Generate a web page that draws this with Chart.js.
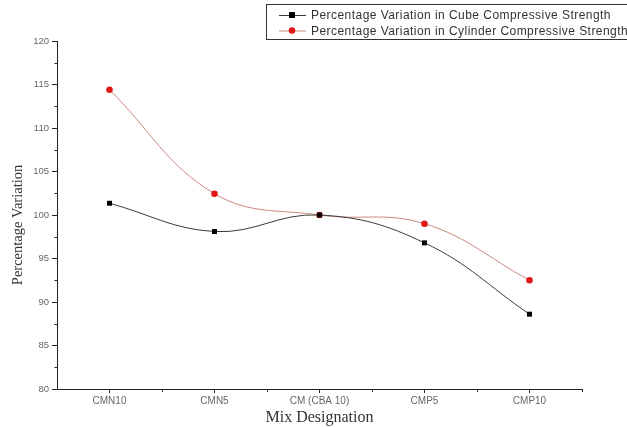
<!DOCTYPE html>
<html>
<head>
<meta charset="utf-8">
<script src="https://cdn.jsdelivr.net/npm/chart.js@4.4.0/dist/chart.umd.min.js"></script>
<style>
  html, body { margin: 0; padding: 0; background: #fff; }
  #chart { display: block; }
</style>
</head>
<body>
<canvas id="chart" width="627" height="427"></canvas>
<script>
const categories = ["CMN10", "CMN5", "CM (CBA 10)", "CMP5", "CMP10"];
const cubeValues = [101.35, 98.1, 100, 96.8, 88.6];
const cylinderValues = [114.4, 102.45, 100, 99.0, 92.5];
const seriesLabels = [
  "Percentage Variation in Cube Compressive Strength",
  "Percentage Variation in Cylinder Compressive Strength",
];

// minor ticks on both axes + the y title, like the Origin plot
const minorTicks = {
  id: "minorTicks",
  afterDraw(chart) {
    const ctx = chart.ctx;
    const x = chart.scales.x;
    const y = chart.scales.y;
    ctx.save();
    ctx.strokeStyle = "#222";
    ctx.lineWidth = 1;
    ctx.beginPath();
    for (let v = 82.5; v < 120; v += 5) {
      const py = Math.round(y.getPixelForValue(v)) + 0.5;
      ctx.moveTo(x.left - 2.5, py);
      ctx.lineTo(x.left, py);
    }
    const w = (x.right - x.left) / categories.length;
    for (let i = 1; i <= categories.length; i++) {
      const px = Math.round(x.left + i * w) + 0.5;
      ctx.moveTo(px, y.bottom);
      ctx.lineTo(px, y.bottom + 3);
    }
    ctx.stroke();

    ctx.translate(18, 225);
    ctx.rotate(-Math.PI / 2);
    ctx.fillStyle = "#333";
    ctx.font = "14.5px 'Liberation Serif', 'Times New Roman', serif";
    ctx.textAlign = "center";
    ctx.textBaseline = "middle";
    ctx.fillText("Percentage Variation", 0, 0);
    ctx.restore();
  },
};

// boxed legend in the top-right corner
const boxLegend = {
  id: "boxLegend",
  afterDraw(chart) {
    const ctx = chart.ctx;
    ctx.save();
    ctx.strokeStyle = "#333";
    ctx.lineWidth = 1;
    ctx.strokeRect(266.5, 4.5, 380, 35);
    ctx.font = "12px 'Liberation Sans', Arial, sans-serif";
    ctx.letterSpacing = "0.45px";
    ctx.textBaseline = "middle";
    chart.data.datasets.forEach((ds, i) => {
      const yy = 15 + i * 15.5;
      ctx.strokeStyle = ds.borderColor;
      ctx.beginPath();
      ctx.moveTo(279, yy + 0.5);
      ctx.lineTo(306, yy + 0.5);
      ctx.stroke();
      ctx.fillStyle = ds.pointBackgroundColor;
      if (ds.pointStyle === "rect") {
        ctx.fillRect(289, yy - 3, 6, 6);
      } else {
        ctx.beginPath();
        ctx.arc(292, yy, 3.3, 0, Math.PI * 2);
        ctx.fill();
      }
      ctx.fillStyle = "#333";
      ctx.fillText(ds.label, 311, yy + 1);
    });
    ctx.restore();
  },
};

const ctx = document.getElementById("chart").getContext("2d");
new Chart(ctx, {
  type: "line",
  data: {
    labels: categories,
    datasets: [
      {
        label: seriesLabels[0],
        data: cubeValues,
        borderColor: "#3a3a3a",
        borderWidth: 1,
        pointStyle: "rect",
        pointRadius: 3.5,
        pointBackgroundColor: "#000",
        pointBorderColor: "#000",
        pointBorderWidth: 0,
        tension: 0.4,
      },
      {
        label: seriesLabels[1],
        data: cylinderValues,
        borderColor: "#c98a80",
        borderWidth: 1,
        pointStyle: "circle",
        pointRadius: 3.3,
        pointBackgroundColor: "#e01818",
        pointBorderColor: "#e01818",
        pointBorderWidth: 0,
        tension: 0.4,
      },
    ],
  },
  options: {
    responsive: false,
    animation: false,
    layout: { padding: { top: 41, right: 45, left: 0, bottom: 0 } },
    plugins: {
      legend: { display: false },
      tooltip: { enabled: false },
    },
    scales: {
      x: {
        offset: true,
        afterFit: (s) => { s.height = 38; },
        grid: { drawOnChartArea: false, tickLength: 4, color: "#222", offset: false },
        border: { color: "#222", width: 1 },
        ticks: {
          color: "#666",
          padding: 2,
          font: { family: "'Liberation Sans', Arial, sans-serif", size: 10 },
        },
        title: {
          display: true,
          text: "Mix Designation",
          color: "#333",
          font: { family: "'Liberation Serif', 'Times New Roman', serif", size: 16 },
          padding: { top: 0, bottom: 0 },
        },
      },
      y: {
        min: 80,
        max: 120,
        afterFit: (s) => { s.width = 57; },
        grid: { drawOnChartArea: false, tickLength: 5, color: "#222" },
        border: { color: "#222", width: 1 },
        ticks: {
          stepSize: 5,
          color: "#666",
          padding: 3,
          font: { family: "'Liberation Sans', Arial, sans-serif", size: 9.5 },
        },
      },
    },
  },
  plugins: [minorTicks, boxLegend],
});
</script>
</body>
</html>
